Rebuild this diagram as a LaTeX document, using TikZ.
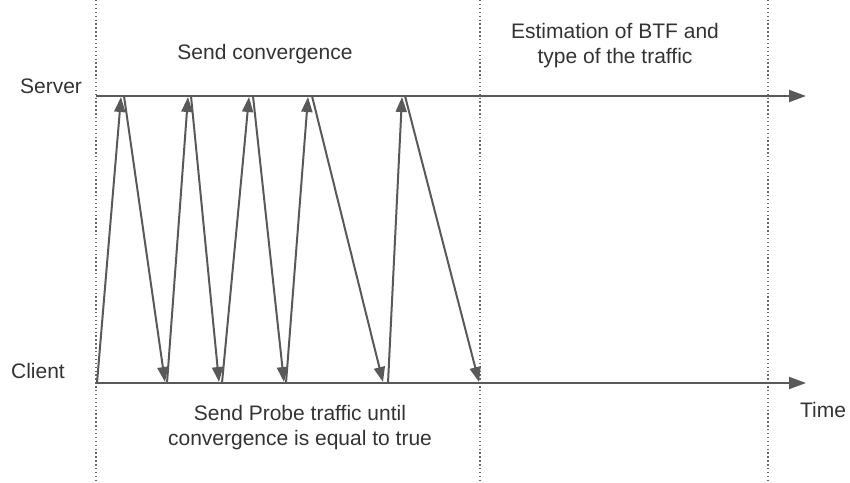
\documentclass[tikz,border=0pt]{standalone}
\usepackage{fontspec}
\setmainfont{Liberation Sans}
\usetikzlibrary{arrows.meta}
\definecolor{linegray}{HTML}{595959}
\definecolor{textgray}{HTML}{333333}
\definecolor{dotgray}{HTML}{6A6A6A}

\begin{document}
\begin{tikzpicture}[
  x=1pt, y=-1pt,
  timeline/.style={line width=2pt, linegray, -{Triangle[length=17pt, width=12pt]}},
  msg/.style={line width=2pt, linegray, -{Triangle[length=15pt, width=11pt]}},
  phase/.style={line width=1.4pt, dotgray, dash pattern=on 1.4pt off 2.5pt},
  lbl/.style={font=\fontsize{21}{25}\selectfont, text=textgray, inner sep=0pt, align=center},
  >=latex
]
\useasboundingbox (0,0) rectangle (850,482);

% === Phase borders ===
\coordinate (B0t) at (96,0);  \coordinate (B0b) at (96,482);
\coordinate (B1t) at (480,0); \coordinate (B1b) at (480,482);
\coordinate (B2t) at (768,0); \coordinate (B2b) at (768,482);
\draw[phase] (B0t) -- (B0b);
\draw[phase] (B1t) -- (B1b);
\draw[phase] (B2t) -- (B2b);

% === Time lines ===
\coordinate (Sbeg) at (96,96);  \coordinate (Sfin) at (806,96);
\coordinate (Cbeg) at (96,383); \coordinate (Cfin) at (806,383);
\draw[timeline] (Sbeg) -- (Sfin);
\draw[timeline] (Cbeg) -- (Cfin);

% === Message end points ===
% server side: arrival (S) and departure (Sr)
\coordinate (S1) at (121,97); \coordinate (S1r) at (124,96);
\coordinate (S2) at (188,97); \coordinate (S2r) at (191,96);
\coordinate (S3) at (249,97); \coordinate (S3r) at (253,96);
\coordinate (S4) at (308,97); \coordinate (S4r) at (312,96);
\coordinate (S5) at (402,97); \coordinate (S5r) at (405,96);
% client side: departure (Cr) and arrival (C)
\coordinate (C0r) at (97,383);
\coordinate (C1) at (165,382); \coordinate (C1r) at (167,383);
\coordinate (C2) at (219,382); \coordinate (C2r) at (222,383);
\coordinate (C3) at (284,382); \coordinate (C3r) at (286,383);
\coordinate (C4) at (383,382); \coordinate (C4r) at (388,383);
\coordinate (C5) at (479,382);

% === Probe / reply messages ===
\draw[msg] (C0r) -- (S1);
\draw[msg] (S1r) -- (C1);
\draw[msg] (C1r) -- (S2);
\draw[msg] (S2r) -- (C2);
\draw[msg] (C2r) -- (S3);
\draw[msg] (S3r) -- (C3);
\draw[msg] (C3r) -- (S4);
\draw[msg] (S4r) -- (C4);
\draw[msg] (C4r) -- (S5);
\draw[msg] (S5r) -- (C5);

% === Labels ===
\node[lbl] (server) at (51,86) {Server};
\node[lbl] (client) at (38,371) {Client};
\node[lbl] (time) at (823,410) {Time};
\node[lbl] (conv) at (265,54) {Send convergence};
\node[lbl] (est) at (615,46) {Estimation of BTF and\\type of the traffic};
\node[lbl] (probe) at (300,428) {Send Probe traffic until\\convergence is equal to true};
\end{tikzpicture}
\end{document}
